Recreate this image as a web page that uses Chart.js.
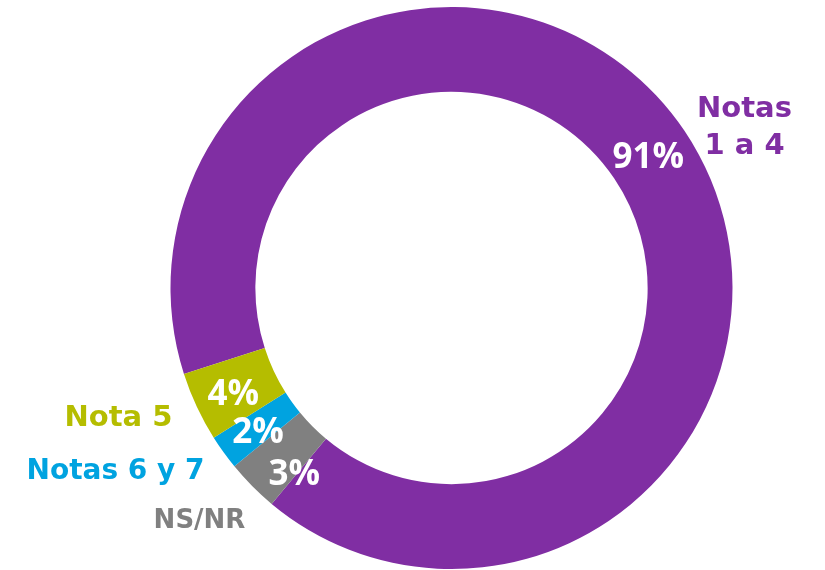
<!DOCTYPE html>
<html>
<head>
<meta charset="utf-8">
<script src="https://cdn.jsdelivr.net/npm/chart.js@4.4.1/dist/chart.umd.min.js"></script>
<style>
    html, body { margin: 0; padding: 0; background: #ffffff; }
    #wrap { width: 825px; height: 570px; }
</style>
</head>
<body>
<div id="wrap"><canvas id="notasChart" width="825" height="570"></canvas></div>
<script>
// Chart data
const categories = ["Notas 1 a 4", "NS/NR", "Notas 6 y 7", "Nota 5"];
const percentages = [91, 3, 2, 4];
const sliceColors = ["#802ea3", "#808080", "#00a3e0", "#b5bd00"];

// Outside labels: text lines and offset from the ring centre
const outsideLabels = [
    { lines: ["Notas", "1 a 4"], dx: 293, dy: -171, size: 29 },
    { lines: ["NS/NR"], dx: -252, dy: 240, size: 26 },
    { lines: ["Notas 6 y 7"], dx: -336, dy: 191, size: 28 },
    { lines: ["Nota 5"], dx: -333, dy: 138, size: 29 }
];

// small nudges for the percentage labels inside the ring
const pctNudge = [[-1, 0], [12, 16], [0, 2], [-2, 3]];

const labelsPlugin = {
    id: "notasLabels",
    afterDatasetsDraw(chart) {
        const ctx = chart.ctx;
        const meta = chart.getDatasetMeta(0);
        const cx = meta.data[0].x;
        const cy = meta.data[0].y;
        ctx.save();
        ctx.textAlign = "center";
        ctx.textBaseline = "alphabetic";

        // percentages inside the slices
        ctx.fillStyle = "#ffffff";
        ctx.font = "bold 35px 'Open Sans'";
        meta.data.forEach(function (arc, i) {
            const p = arc.getCenterPoint();
            ctx.fillText(percentages[i] + "%", p.x + pctNudge[i][0], p.y + 13 + pctNudge[i][1]);
        });

        // category names outside the ring
        outsideLabels.forEach(function (lab, i) {
            ctx.fillStyle = sliceColors[i];
            ctx.font = "bold " + lab.size + "px 'DejaVu Sans'";
            lab.lines.forEach(function (line, k) {
                ctx.fillText(line, cx + lab.dx, cy + lab.dy + k * 37);
            });
        });
        ctx.restore();
    }
};

const ctx = document.getElementById("notasChart").getContext("2d");
const notasChart = new Chart(ctx, {
    type: "doughnut",
    data: {
        labels: categories,
        datasets: [{
            data: percentages,
            backgroundColor: sliceColors,
            borderWidth: 0,
            hoverOffset: 0
        }]
    },
    options: {
        responsive: false,
        animation: false,
        rotation: 252.2,
        cutout: "69.8%",
        layout: {
            padding: { top: 7, bottom: 1, left: 78, right: 0 }
        },
        plugins: {
            legend: { display: false },
            tooltip: { enabled: false }
        }
    },
    plugins: [labelsPlugin]
});
</script>
</body>
</html>
